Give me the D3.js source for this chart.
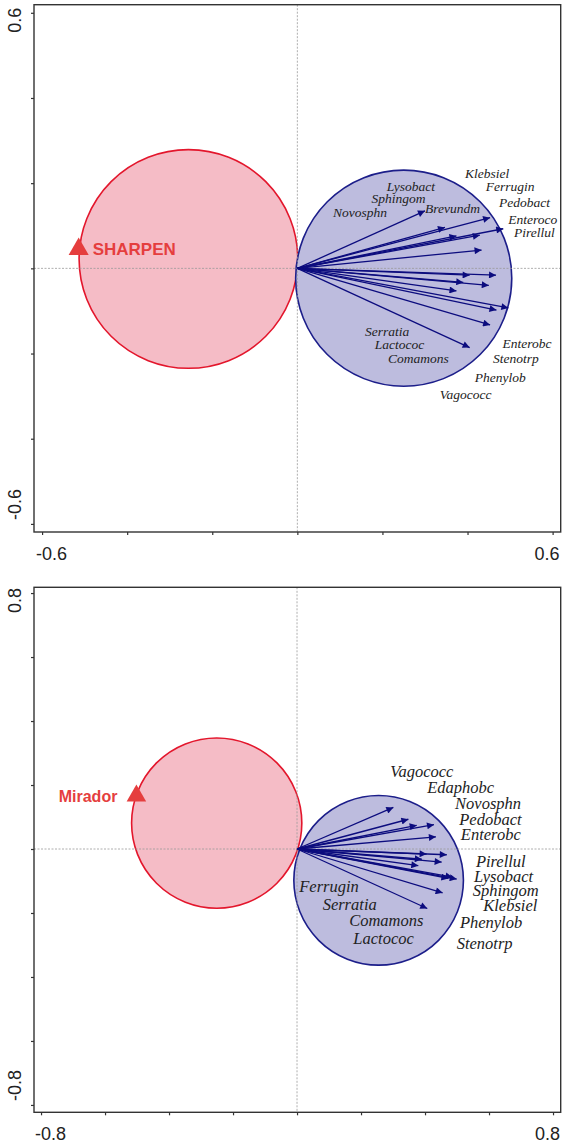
<!DOCTYPE html>
<html>
<head>
<meta charset="utf-8">
<script src="https://cdn.jsdelivr.net/npm/d3@7"></script>
<style>
  body { margin: 0; background: #fff; }
  svg { display: block; }
</style>
</head>
<body>
<div id="graph-holder"></div>
<script>
// ---- data (ordination scores) ----
var topTicks = [-0.6, -0.4, -0.2, 0, 0.2, 0.4, 0.6];
var bottomTicks = [-0.8, -0.6, -0.4, -0.2, 0, 0.2, 0.4, 0.6, 0.8];

// top panel: site, circles, species arrows, labels
var topSite = ["SHARPEN", -0.514, 0.045];
var topRedCircle = [-0.256, 0.022, 0.257];
var topBlueCircle = [0.250, -0.023, 0.254];
var topArrowX = [0.300, 0.453, 0.347, 0.484, 0.374, 0.429, 0.433, 0.405, 0.467, 0.390, 0.450, 0.374, 0.468, 0.496, 0.453, 0.405];
var topArrowY = [0.135, 0.119, 0.096, 0.093, 0.076, 0.078, 0.043, -0.016, -0.016, -0.033, -0.040, -0.053, -0.098, -0.093, -0.133, -0.186];
var topLabels = ["Lysobact", "Sphingom", "Novosphn", "Brevundm", "Klebsiel", "Ferrugin", "Pedobact", "Enteroco", "Pirellul",
  "Serratia", "Lactococ", "Comamons", "Enterobc", "Stenotrp", "Phenylob", "Vagococc"];
var topLabelX = [0.210, 0.174, 0.084, 0.300, 0.394, 0.443, 0.474, 0.496, 0.509, 0.159, 0.182, 0.213, 0.482, 0.460, 0.417, 0.335];
var topLabelY = [0.182, 0.153, 0.120, 0.129, 0.212, 0.182, 0.143, 0.104, 0.073, -0.159, -0.190, -0.223, -0.188, -0.223, -0.267, -0.306];

// bottom panel
var bottomSite = ["Mirador", -0.502, 0.166];
var bottomRedCircle = [-0.251, 0.081, 0.266];
var bottomBlueCircle = [0.255, -0.098, 0.265];
var bottomArrowX = [0.301, 0.348, 0.374, 0.428, 0.434, 0.405, 0.468, 0.390, 0.452, 0.379, 0.473, 0.499, 0.486, 0.455, 0.407];
var bottomArrowY = [0.130, 0.093, 0.074, 0.076, 0.038, -0.016, -0.018, -0.032, -0.041, -0.052, -0.092, -0.094, -0.088, -0.137, -0.186];
var bottomLabels = ["Vagococc", "Edaphobc", "Novosphn", "Pedobact", "Enterobc", "Pirellul", "Lysobact", "Sphingom", "Klebsiel",
  "Phenylob", "Stenotrp", "Ferrugin", "Serratia", "Comamons", "Lactococ"];
var bottomLabelX = [0.291, 0.407, 0.494, 0.507, 0.512, 0.559, 0.553, 0.549, 0.582, 0.509, 0.499, 0.007, 0.080, 0.163, 0.176];
var bottomLabelY = [0.224, 0.176, 0.125, 0.075, 0.028, -0.057, -0.102, -0.146, -0.195, -0.248, -0.313, -0.133, -0.191, -0.241, -0.297];

var svg = d3.select("#graph-holder")
  .append("svg")
  .attr("width", 567)
  .attr("height", 1147);

// arrowhead marker
svg.append("defs")
  .append("marker")
  .attr("id", "head")
  .attr("viewBox", "0 0 10 10")
  .attr("refX", 10)
  .attr("refY", 5)
  .attr("markerUnits", "userSpaceOnUse")
  .attr("markerWidth", 10)
  .attr("markerHeight", 7)
  .attr("orient", "auto")
  .append("path")
  .attr("d", "M0,0 L10,5 L0,10 Z")
  .attr("fill", "#0c0c7e");

// R style labels: plain hyphen for negatives
function fmt(v) {
  return v.toFixed(1);
}

function drawPanel(opt) {
  var x = d3.scaleLinear().domain(opt.xDomain).range([opt.left, opt.right]);
  var y = d3.scaleLinear().domain(opt.yDomain).range([opt.bottom, opt.top]);
  var g = svg.append("g");

  function radius(r) {
    return x(r) - x(0);
  }

  // red circle (site)
  g.append("circle")
    .attr("cx", x(opt.red[0]))
    .attr("cy", y(opt.red[1]))
    .attr("r", radius(opt.red[2]))
    .attr("fill", "#f5bcc6")
    .attr("stroke", "#e3162c")
    .attr("stroke-width", 1.6);

  // blue circle (species)
  g.append("circle")
    .attr("cx", x(opt.blue[0]))
    .attr("cy", y(opt.blue[1]))
    .attr("r", radius(opt.blue[2]))
    .attr("fill", "#bdbcde")
    .attr("stroke", "#1c1e8a")
    .attr("stroke-width", 1.6);

  // zero lines
  g.append("line")
    .attr("x1", opt.left).attr("x2", opt.right)
    .attr("y1", y(0)).attr("y2", y(0))
    .attr("stroke", "#999")
    .attr("stroke-width", 0.8)
    .attr("stroke-dasharray", "2,1.5");
  g.append("line")
    .attr("x1", x(0)).attr("x2", x(0))
    .attr("y1", opt.top).attr("y2", opt.bottom)
    .attr("stroke", "#999")
    .attr("stroke-width", 0.8)
    .attr("stroke-dasharray", "2,1.5");

  // arrows
  var arrows = d3.range(opt.ax.length);
  g.selectAll(".arrow")
    .data(arrows)
    .enter()
    .append("line")
    .attr("class", "arrow")
    .attr("x1", x(0))
    .attr("y1", y(0))
    .attr("x2", function(i) { return x(opt.ax[i]); })
    .attr("y2", function(i) { return y(opt.ay[i]); })
    .attr("stroke", "#0c0c7e")
    .attr("stroke-width", 1.3)
    .attr("marker-end", "url(#head)");

  // species labels
  g.selectAll(".sp")
    .data(opt.labels)
    .enter()
    .append("text")
    .attr("class", "sp")
    .attr("x", function(d, i) { return x(opt.lx[i]); })
    .attr("y", function(d, i) { return y(opt.ly[i]); })
    .attr("font-family", "'Liberation Serif', 'Times New Roman', serif")
    .attr("font-style", "italic")
    .attr("font-size", opt.labelSize)
    .attr("fill", "#222")
    .text(function(d) { return d; });

  // site triangle + name
  var sx = x(opt.site[1]), sy = y(opt.site[2]);
  g.append("path")
    .attr("d", d3.symbol(d3.symbolTriangle, opt.triSize)())
    .attr("transform", "translate(" + sx + "," + sy + ")")
    .attr("fill", "#e53e3e");
  g.append("text")
    .attr("x", sx + opt.siteDx)
    .attr("y", sy + 6)
    .attr("text-anchor", opt.siteAnchor)
    .attr("font-family", "'Liberation Sans', Arial, sans-serif")
    .attr("font-weight", "bold")
    .attr("font-size", opt.siteSize)
    .attr("fill", "#e53e3e")
    .text(opt.site[0]);

  // frame
  g.append("rect")
    .attr("x", opt.left)
    .attr("y", opt.top)
    .attr("width", opt.right - opt.left)
    .attr("height", opt.bottom - opt.top)
    .attr("fill", "none")
    .attr("stroke", "#333")
    .attr("stroke-width", 1.4);

  // tick marks
  g.append("g")
    .attr("transform", "translate(0," + opt.bottom + ")")
    .call(d3.axisBottom(x).tickValues(opt.ticks).tickSize(3).tickFormat(""))
    .call(function(a) {
      a.select(".domain").remove();
      a.selectAll("line").attr("stroke", "#333").attr("stroke-width", 1.2);
    });
  g.append("g")
    .attr("transform", "translate(" + opt.left + ",0)")
    .call(d3.axisLeft(y).tickValues(opt.ticks).tickSize(3).tickFormat(""))
    .call(function(a) {
      a.select(".domain").remove();
      a.selectAll("line").attr("stroke", "#333").attr("stroke-width", 1.2);
    });

  // tick labels at the extremes only
  var lo = opt.ticks[0], hi = opt.ticks[opt.ticks.length - 1];
  var tickFont = "'Liberation Sans', Arial, sans-serif";
  g.append("text")
    .attr("x", x(lo) - 6)
    .attr("y", opt.bottom + 28)
    .attr("font-family", tickFont)
    .attr("font-size", 18)
    .attr("fill", "#222")
    .text(fmt(lo));
  g.append("text")
    .attr("x", x(hi) + 7)
    .attr("y", opt.bottom + 28)
    .attr("text-anchor", "end")
    .attr("font-family", tickFont)
    .attr("font-size", 18)
    .attr("fill", "#222")
    .text(fmt(hi));
  g.append("text")
    .attr("transform", "translate(21," + (y(hi) - 5) + ") rotate(-90)")
    .attr("text-anchor", "end")
    .attr("font-family", tickFont)
    .attr("font-size", 18)
    .attr("fill", "#222")
    .text(fmt(hi));
  g.append("text")
    .attr("transform", "translate(21," + (y(lo) - 4) + ") rotate(-90)")
    .attr("text-anchor", "start")
    .attr("font-family", tickFont)
    .attr("font-size", 18)
    .attr("fill", "#222")
    .text(fmt(lo));
}

drawPanel({
  left: 34, right: 560.7, top: 4.7, bottom: 532,
  xDomain: [-0.619, 0.619], yDomain: [-0.619, 0.619],
  ticks: topTicks,
  red: topRedCircle, blue: topBlueCircle,
  ax: topArrowX, ay: topArrowY,
  labels: topLabels, lx: topLabelX, ly: topLabelY, labelSize: 13.5,
  site: topSite, siteDx: 14, siteAnchor: "start", siteSize: 17, triSize: 175
});

drawPanel({
  left: 34, right: 560.7, top: 587.3, bottom: 1112.3,
  xDomain: [-0.822, 0.824], yDomain: [-0.823, 0.818],
  ticks: bottomTicks,
  red: bottomRedCircle, blue: bottomBlueCircle,
  ax: bottomArrowX, ay: bottomArrowY,
  labels: bottomLabels, lx: bottomLabelX, ly: bottomLabelY, labelSize: 16.5,
  site: bottomSite, siteDx: -19, siteAnchor: "end", siteSize: 16, triSize: 165
});
</script>
</body>
</html>
